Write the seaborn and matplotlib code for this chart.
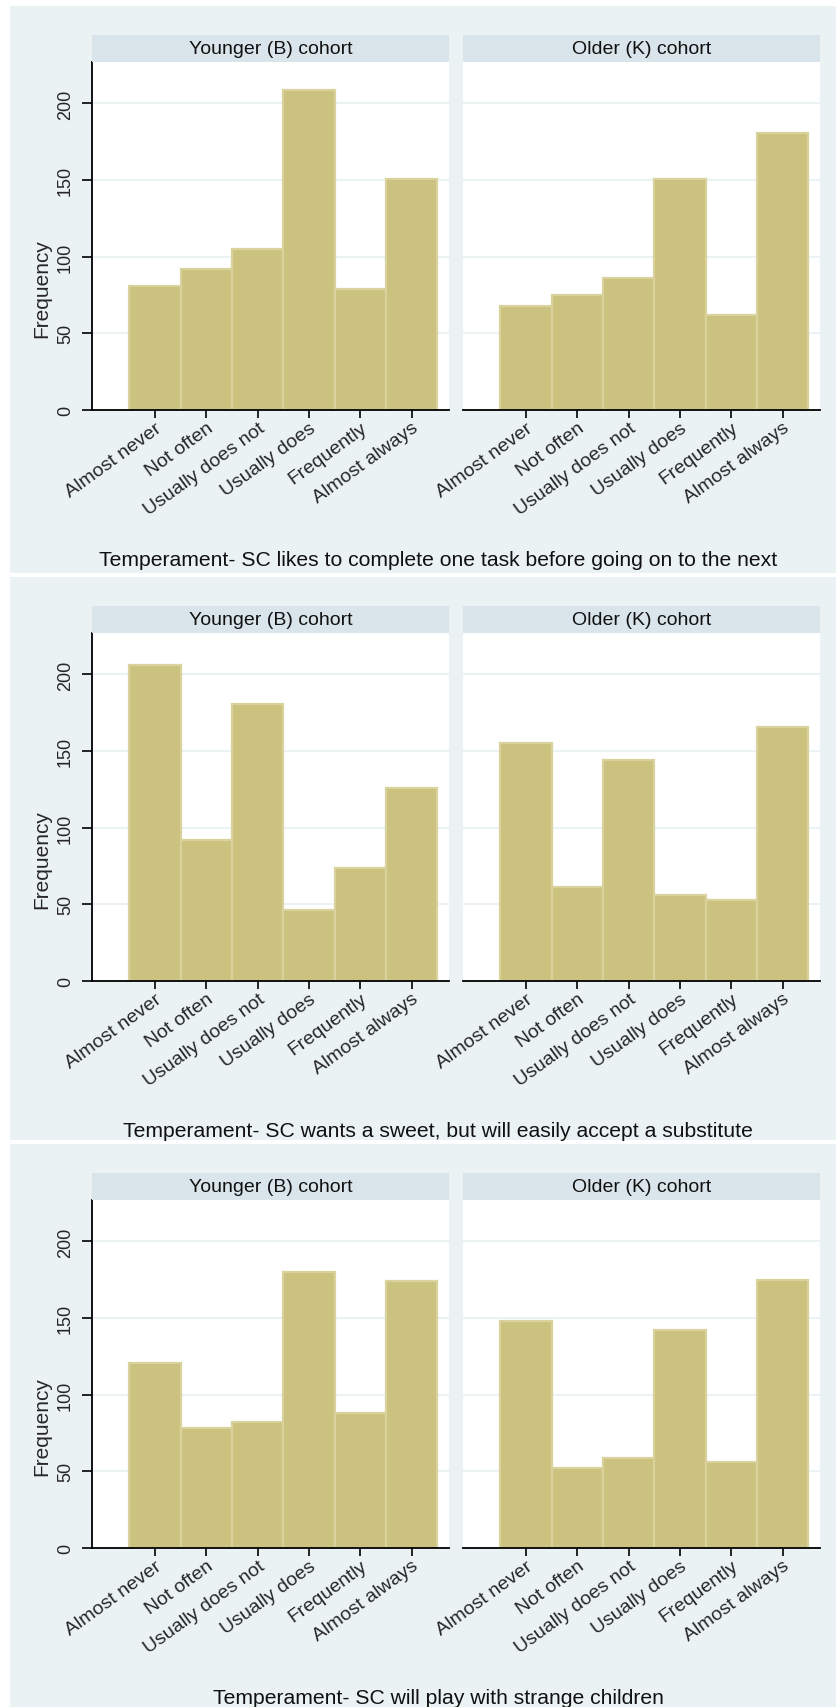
import numpy as np
import pandas as pd
import seaborn as sns
import matplotlib
matplotlib.use("Agg")
import matplotlib.pyplot as plt
from matplotlib.patches import Rectangle

# Response categories (x axis) and frequencies per item and cohort
categories = ["Almost never", "Not often", "Usually does not",
              "Usually does", "Frequently", "Almost always"]
cohorts = ["Younger (B) cohort", "Older (K) cohort"]
items = [
    "Temperament- SC likes to complete one task before going on to the next",
    "Temperament- SC wants a sweet, but will easily accept a substitute",
    "Temperament- SC will play with strange children",
]
task_younger = [81, 92, 105, 209, 79, 151]
task_older = [68, 75, 86, 151, 62, 181]
sweet_younger = [206, 92, 181, 46, 74, 126]
sweet_older = [155, 61, 144, 56, 53, 166]
play_younger = [121, 78, 82, 180, 88, 174]
play_older = [148, 52, 59, 142, 56, 175]
y_ticks = [0, 50, 100, 150, 200]

series = [
    (task_younger, task_older),
    (sweet_younger, sweet_older),
    (play_younger, play_older),
]

sns.set_style("white")
plt.rcParams["font.family"] = ["Liberation Sans", "DejaVu Sans"]

W, H = 837, 1708
fig = plt.figure(figsize=(W / 100, H / 100), dpi=100, facecolor="white")

BG = "#EAF2F3"
STRIP = "#D9E5EA"
BAR = "#CBC280"
BAR_EDGE = "#D9D29C"


def fig_rect(x0, y0, x1, y1):
    return [x0 / W, 1 - y1 / H, (x1 - x0) / W, (y1 - y0) / H]


panel_bounds = [(7, 574), (578, 1141), (1145, 1708)]
offsets = [0, 571, 1138]
col_x = [(92, 449), (463, 820)]

for p, (vals_pair, item) in enumerate(zip(series, items)):
    top, bottom = panel_bounds[p]
    o = offsets[p]
    fig.add_artist(Rectangle((10 / W, 1 - bottom / H), (W - 10) / W,
                             (bottom - top) / H, transform=fig.transFigure,
                             facecolor=BG, edgecolor="none", zorder=0))
    for c, (vals, cohort) in enumerate(zip(vals_pair, cohorts)):
        x0, x1 = col_x[c]
        # strip header above each facet
        fig.add_artist(Rectangle((x0 / W, 1 - (63 + o) / H), (x1 - x0) / W,
                                 27 / H, transform=fig.transFigure,
                                 facecolor=STRIP, edgecolor="none", zorder=1))
        fig.text((x0 + x1) / 2 / W, 1 - (49.5 + o) / H, cohort,
                 ha="center", va="center", fontsize=14, color="#111111")

        ax = fig.add_axes(fig_rect(x0, 63 + o, x1, 411 + o))
        df = pd.DataFrame({"response": categories, "freq": vals})
        sns.barplot(data=df, x="response", y="freq", order=categories,
                    width=1.0, color=BAR, saturation=1, edgecolor=BAR_EDGE,
                    linewidth=1.6, ax=ax, zorder=3)
        ax.set_facecolor("white")
        ax.set_xlim(-1.23, 5.73)
        ax.set_ylim(0, 227)
        ax.set_yticks(y_ticks)
        ax.yaxis.grid(True, color=BG, linewidth=1.4, zorder=0)
        ax.set_axisbelow(True)
        ax.set_xlabel("")
        ax.set_ylabel("")
        for s in ["top", "right"]:
            ax.spines[s].set_visible(False)
        ax.spines["bottom"].set_color("black")
        ax.spines["bottom"].set_linewidth(1.3)
        ax.spines["bottom"].set_zorder(5)
        ax.set_xticks(range(len(categories)))
        ax.set_xticklabels(categories, rotation=36, ha="right",
                           rotation_mode="anchor", fontsize=14)
        ax.tick_params(axis="x", length=6, width=1.2, color="black",
                       direction="out", pad=0.5, bottom=True)
        if c == 0:
            ax.spines["left"].set_color("black")
            ax.spines["left"].set_linewidth(1.3)
            ax.set_yticklabels([str(t) for t in y_ticks], rotation=90,
                               va="center", fontsize=13)
            ax.tick_params(axis="y", length=7, width=1.2, color="black",
                           direction="out", pad=6, left=True)
            fig.text(42 / W, 1 - (289 + o) / H, "Frequency", rotation=90,
                     ha="center", va="center", fontsize=15)
        else:
            ax.spines["left"].set_visible(False)
            ax.tick_params(axis="y", length=0, labelleft=False)

    fig.text(438 / W, 1 - (561 + o) / H, item, ha="center", va="center",
             fontsize=15.2, color="#111111")

fig.savefig("out.png", dpi=100, facecolor="white")
